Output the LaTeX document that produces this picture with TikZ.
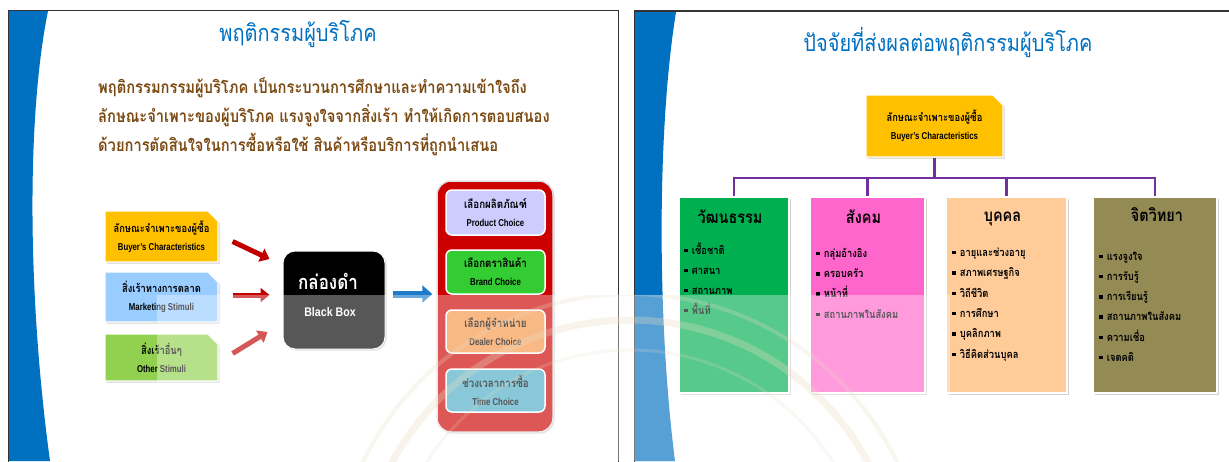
\documentclass[tikz,border=0pt]{standalone}
\usepackage{fontspec}
\setmainfont{Liberation Sans}
\newfontfamily\thai[Script=Thai]{Loma}
\newfontfamily\thaic[Script=Thai,FakeStretch=0.85]{Loma}
\newfontfamily\engc[FakeStretch=0.78]{Liberation Sans}
\newfontfamily\engb[FakeStretch=0.85]{Liberation Sans}
\usetikzlibrary{shapes.misc,arrows.meta,calc,shadows}
\definecolor{slideblue}{HTML}{0070C0}
\definecolor{bodybrown}{HTML}{7B4A12}
\definecolor{byellow}{HTML}{FFC000}
\definecolor{bblue}{HTML}{99CCFF}
\definecolor{bgreen}{HTML}{92D050}
\definecolor{cred}{HTML}{CC0000}
\definecolor{arrred}{HTML}{C00000}
\definecolor{prodc}{HTML}{CCCCFF}
\definecolor{brandc}{HTML}{33CC33}
\definecolor{dealc}{HTML}{F79646}
\definecolor{timec}{HTML}{4BACC6}
\definecolor{culg}{HTML}{00B050}
\definecolor{socp}{HTML}{FF66CC}
\definecolor{pero}{HTML}{FFCC99}
\definecolor{psyo}{HTML}{948A54}
\definecolor{purp}{HTML}{7030A0}
\definecolor{arrblue}{HTML}{1F7BC9}
\definecolor{sealc}{HTML}{E9DCC3}
\newcommand\mybullet{\raisebox{2pt}{\rule{3.5pt}{3.5pt}}\hspace{4pt}}
\newcommand\boxtxt[2]{{\thaic\bfseries #1}\\{\engc\bfseries\fontsize{10}{18}\selectfont #2}}
\tikzset{
  shad/.style={drop shadow={shadow xshift=1.5pt,shadow yshift=-1.5pt,fill=black,opacity=0.18}},
  chambox/.style={chamfered rectangle, chamfered rectangle corners=north east,
    chamfered rectangle xsep=5pt, chamfered rectangle ysep=5pt, draw=white,
    line width=1.2pt, inner sep=0pt, align=center, shad,
    font=\fontsize{11}{18}\selectfont},
  choicebox/.style={rectangle, rounded corners=6pt, draw=white, line width=1.5pt,
    minimum width=99pt, inner sep=0pt, align=center, font=\fontsize{11.5}{18}\selectfont},
  factbox/.style={rectangle, draw=white, line width=1.5pt, minimum height=196pt,
    inner sep=0pt, shad},
  facttitle/.style={anchor=base, inner sep=0pt, font=\fontsize{17}{20}\selectfont\thaic\bfseries},
  item/.style={anchor=base west, inner sep=0pt, font=\fontsize{11}{13}\selectfont\thaic\bfseries},
  bodyline/.style={anchor=base west, inner sep=0pt, text=bodybrown,
    font=\fontsize{17.3}{20}\selectfont\thaic\bfseries},
  slidetitle/.style={anchor=base, inner sep=0pt, text=slideblue,
    font=\fontsize{23.5}{26}\selectfont\thaic},
  redarr/.style={draw=arrred, line width=5pt, -{Triangle[length=9pt,width=14pt]}},
  bluearr/.style={draw=arrblue, line width=7pt, -{Triangle[length=10pt,width=17pt]}},
  conn/.style={draw=purp, line width=2.5pt},
  frame/.style={draw=black!80, line width=1.2pt}
}
\begin{document}
\begin{tikzpicture}[x=1pt,y=-1pt]
\useasboundingbox (0,0) rectangle (1229,461);
\clip (0,0) rectangle (1229,461);
\fill[white] (0,0) rectangle (1229,461);

% ---------- left slide ----------
\fill[slideblue] (9,11) -- (48,11) .. controls (26,120) and (28,300) .. (50,461) -- (9,461) -- cycle;
\draw[frame] (8.5,470) -- (8.5,10.5) -- (618.5,10.5) -- (618.5,470);

\node[slidetitle] (ltitle) at (298,41) {พฤติกรรมผู้บริโภค};
\node[bodyline] (l1) at (98,93) {พฤติกรรมกรรมผู้บริโภค เป็นกระบวนการศึกษาและทำความเข้าใจถึง};
\node[bodyline] (l2) at (98,122) {ลักษณะจำเพาะของผู้บริโภค แรงจูงใจจากสิ่งเร้า ทำให้เกิดการตอบสนอง};
\node[bodyline] (l3) at (98,151) {ด้วยการตัดสินใจในการซื้อหรือใช้ สินค้าหรือบริการที่ถูกนำเสนอ};

\node[chambox, fill=byellow, minimum width=113pt, minimum height=51pt] (yel) at (161.5,236.5)
  {\boxtxt{ลักษณะจำเพาะของผู้ซื้อ}{Buyer’s Characteristics}};
\node[chambox, fill=bblue, minimum width=113pt, minimum height=50pt] (mkt) at (161.5,297)
  {\boxtxt{สิ่งเร้าทางการตลาด}{Marketing Stimuli}};
\node[chambox, fill=bgreen, minimum width=113pt, minimum height=47pt] (oth) at (161.5,357.5)
  {\boxtxt{สิ่งเร้าอื่นๆ}{Other Stimuli}};

\node[rectangle, rounded corners=12pt, fill=black, draw=white, line width=1pt,
  minimum width=102pt, minimum height=98pt, shad] (bbox) at (334,300) {};
\node[anchor=base, text=white, inner sep=0pt, font=\fontsize{20}{24}\selectfont\thaic\bfseries]
  (bbth) at ($(bbox.center)+(-6,-11)$) {กล่องดำ};
\node[anchor=base, text=white, inner sep=0pt, font=\fontsize{12.5}{14}\selectfont\engb\bfseries]
  (bben) at ($(bbox.center)+(-4,16)$) {Black Box};

\node[rectangle, rounded corners=14pt, fill=cred, draw=black!12, line width=1.5pt,
  minimum width=116pt, minimum height=251pt, shad] (cont) at (495,306.5) {};
\node[choicebox, fill=prodc, minimum height=45pt] (prod) at (495.5,212.5)
  {\boxtxt{เลือกผลิตภัณฑ์}{Product Choice}};
\node[choicebox, fill=brandc, minimum height=44pt] (brand) at (495.5,272)
  {\boxtxt{เลือกตราสินค้า}{Brand Choice}};
\node[choicebox, fill=dealc, minimum height=43pt] (deal) at (495.5,331.5)
  {\boxtxt{เลือกผู้จำหน่าย}{Dealer Choice}};
\node[choicebox, fill=timec, minimum height=43pt] (time) at (495.5,390.5)
  {\boxtxt{ช่วงเวลาการซื้อ}{Time Choice}};

\draw[redarr] ($(yel.east)+(14,5)$) -- ($(bbox.west)+(-13,-41)$);
\draw[redarr] ($(mkt.east)+(14,-2)$) -- ($(bbox.west)+(-13,-5)$);
\draw[redarr] ($(oth.east)+(14,-4)$) -- ($(bbox.west)+(-15,32)$);
\draw[bluearr] ($(bbox.east)+(7,-6)$) -- ($(cont.west)+(-4,-12.5)$);

% ---------- right slide ----------
\fill[slideblue] (635,12) -- (676,12) .. controls (657,130) and (657,320) .. (675,461) -- (635,461) -- cycle;
\draw[frame] (634.5,470) -- (634.5,11) -- (1240,11);

\node[slidetitle] (rtitle) at (948,51) {ปัจจัยที่ส่งผลต่อพฤติกรรมผู้บริโภค};

\node[chambox, fill=byellow, minimum width=137pt, minimum height=62pt] (buyer) at (934.5,126)
  {\boxtxt{ลักษณะจำเพาะของผู้ซื้อ}{Buyer’s Characteristics}};

\coordinate (hub) at (934,178);
\node[factbox, fill=culg, minimum width=110pt] (cul) at (734,295) {};
\node[factbox, fill=socp, minimum width=115pt] (soc) at (867.5,295) {};
\node[factbox, fill=pero, minimum width=121pt] (per) at (1006.5,295) {};
\node[factbox, fill=psyo, minimum width=124pt] (psy) at (1155,295) {};

\draw[conn] (buyer.south) -- (buyer.south |- hub);
\draw[conn, line cap=rect] (cul.north |- hub) -- (psy.north |- hub);
\foreach \b in {cul,soc,per,psy} \draw[conn] (\b.north |- hub) -- (\b.north);

\node[facttitle] (cult) at ($(cul.north)+(-4,27)$) {วัฒนธรรม};
\node[facttitle] (soct) at ($(soc.north)+(-4,27)$) {สังคม};
\node[facttitle] (pert) at ($(per.north)+(-4,25)$) {บุคคล};
\node[facttitle] (psyt) at ($(psy.north)+(2,25)$) {จิตวิทยา};

\foreach \t [count=\i] in {เชื้อชาติ,ศาสนา,สถานภาพ,พื้นที่}
  \node[item] (cul-\i) at ($(cul.north west)+(6,58+20*\i-20)$) {\mybullet\t};
\foreach \t [count=\i] in {กลุ่มอ้างอิง,ครอบครัว,หน้าที่,สถานภาพในสังคม}
  \node[item] (soc-\i) at ($(soc.north west)+(7,61+20.3*\i-20.3)$) {\mybullet\t};
\foreach \t [count=\i] in {อายุและช่วงอายุ,สภาพเศรษฐกิจ,วิถีชีวิต,การศึกษา,บุคลิกภาพ,วิธีคิดส่วนบุคล}
  \node[item] (per-\i) at ($(per.north west)+(7,60+20.4*\i-20.4)$) {\mybullet\t};
\foreach \t [count=\i] in {แรงจูงใจ,การรับรู้,การเรียนรู้,สถานภาพในสังคม,ความเชื่อ,เจตคติ}
  \node[item] (psy-\i) at ($(psy.north west)+(7,64+20.2*\i-20.2)$) {\mybullet\t};

% ---------- watermark overlay ----------
\begin{scope}
  \clip (157,295) rectangle (950,461);
  \fill[white, opacity=0.34] (157,295) rectangle (950,461);
  \draw[sealc, opacity=0.3, line width=7pt] (630,590) circle[radius=270];
  \draw[sealc, opacity=0.25, line width=4pt] (630,590) circle[radius=296];
  \draw[sealc, opacity=0.2, line width=3pt] (630,590) circle[radius=240];
\end{scope}
\end{tikzpicture}
\end{document}
